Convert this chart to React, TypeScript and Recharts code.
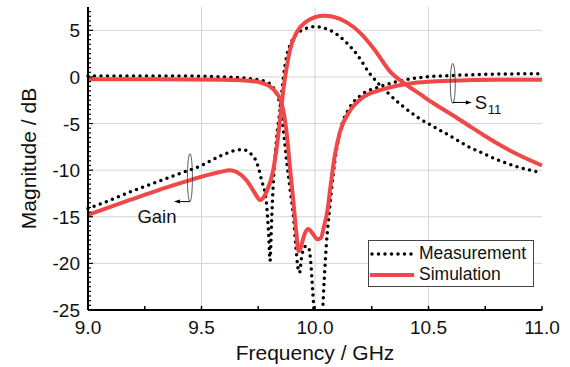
import { LineChart, Line, XAxis, YAxis, CartesianGrid, Legend, ReferenceDot } from "recharts";

// [frequency GHz, magnitude dB]
const S11_MEASURED: [number, number][] = [
  [9.0, 0.1], [9.2, 0.1], [9.4, 0.1], [9.6, 0.0], [9.7, -0.15], [9.76, -0.35], [9.8, -0.7],
  [9.83, -1.8], [9.846, -3.0], [9.86, -5.5], [9.875, -9], [9.89, -12], [9.905, -15], [9.915, -18],
  [9.925, -20.5], [9.932, -21], [9.94, -19.5], [9.955, -18.2], [9.97, -18.2], [9.98, -19.5],
  [9.99, -23], [10.0, -26.5], [10.015, -28], [10.03, -26.5], [10.04, -22], [10.05, -18],
  [10.065, -14], [10.08, -10.5], [10.095, -7.8], [10.12, -5], [10.15, -3.4], [10.2, -2.0],
  [10.28, -1.1], [10.36, -0.5], [10.45, -0.1], [10.6, 0.15], [10.8, 0.3], [11.0, 0.35],
];

const S11_SIMULATED: [number, number][] = [
  [9.0, -0.25], [9.3, -0.25], [9.6, -0.3], [9.7, -0.4], [9.76, -0.6], [9.8, -1.0], [9.83, -1.7],
  [9.85, -2.6], [9.862, -3.8], [9.875, -6], [9.89, -9.8], [9.905, -13.4], [9.918, -16.8],
  [9.928, -18.7], [9.937, -18.3], [9.955, -16.8], [9.97, -16.3], [9.99, -16.8], [10.01, -17.4],
  [10.025, -17.3], [10.04, -16.0], [10.055, -14.3], [10.068, -11.8], [10.088, -8.3], [10.11, -5.9],
  [10.155, -3.6], [10.21, -2.2], [10.29, -1.4], [10.36, -0.95], [10.45, -0.6], [10.6, -0.4],
  [10.8, -0.3], [11.0, -0.3],
];

const GAIN_MEASURED: [number, number][] = [
  [9.0, -14.1], [9.1, -13.2], [9.2, -12.2], [9.3, -11.3], [9.4, -10.4], [9.5, -9.5], [9.58, -8.5],
  [9.64, -7.95], [9.68, -7.8], [9.715, -8.2], [9.745, -9.3], [9.765, -11.1], [9.785, -13.3],
  [9.795, -16.5], [9.802, -19.7], [9.808, -16], [9.815, -12], [9.83, -6.8], [9.846, -3.5],
  [9.861, 0.0], [9.875, 2.2], [9.897, 3.8], [9.935, 4.9], [10.0, 5.4], [10.066, 5.0],
  [10.125, 4.0], [10.185, 2.4], [10.24, 0.4], [10.316, -1.6], [10.38, -3.0], [10.45, -4.3],
  [10.52, -5.3], [10.6, -6.4], [10.67, -7.4], [10.75, -8.3], [10.815, -9.0], [10.9, -9.7],
  [11.0, -10.3],
];

const GAIN_SIMULATED: [number, number][] = [
  [9.0, -14.8], [9.185, -13.2], [9.405, -11.4], [9.581, -10.2], [9.626, -10.0], [9.655, -10.2],
  [9.699, -11.1], [9.736, -12.5], [9.758, -13.2], [9.787, -12.3], [9.816, -10.0], [9.83, -7.8],
  [9.845, -4.8], [9.86, -1.5], [9.875, 1.0], [9.89, 2.9], [9.92, 4.8], [9.96, 5.9], [10.0, 6.4],
  [10.04, 6.55], [10.08, 6.45], [10.14, 5.85], [10.2, 4.7], [10.26, 3.0], [10.33, 0.6],
  [10.4, -0.8], [10.46, -1.8], [10.52, -2.8], [10.6, -4.0], [10.67, -5.1], [10.74, -6.2],
  [10.815, -7.3], [10.9, -8.4], [11.0, -9.5],
];

const X_TICKS = [9, 9.25, 9.5, 9.75, 10, 10.25, 10.5, 10.75, 11];
const X_MAJOR = [9, 9.5, 10, 10.5, 11];
const X_GRID = [9.5, 10, 10.5];
const Y_MAJOR = [5, 0, -5, -10, -15, -20, -25];
const Y_GRID = [5, 0, -5, -10, -15, -20];
const Y_TICKS = Array.from({ length: 65 }, (_, i) => 7 - i * 0.5).filter(v => v >= -25);
const LEGEND_ITEMS = ["Measurement", "Simulation"];

const RED = "#f04848";
const FONT = "'Liberation Sans', Arial, sans-serif";

const pts = (arr: [number, number][]) => arr.map(([f, db]) => ({ f, db }));

function XTick({ x, y, payload }: any) {
  const major = X_MAJOR.includes(payload.value);
  return (
    <g>
      <line x1={x} x2={x} y1={y} y2={y - 4} stroke="#000" strokeWidth={1.5} />
      {major && (
        <text x={x} y={y + 24} textAnchor="middle" fontSize={19} fontFamily={FONT} fill="#111">
          {payload.value.toFixed(1)}
        </text>
      )}
    </g>
  );
}

function YTick({ x, y, payload }: any) {
  const major = Y_MAJOR.includes(payload.value);
  return (
    <g>
      <line x1={x} x2={x + (major ? 5 : 3)} y1={y} y2={y} stroke="#000" strokeWidth={1.2} />
      {major && (
        <text x={x - 8} y={y + 7} textAnchor="end" fontSize={19} fontFamily={FONT} fill="#111">
          {payload.value}
        </text>
      )}
    </g>
  );
}

function GainMark({ cx, cy }: any) {
  return (
    <g>
      <ellipse cx={cx} cy={cy} rx={2.5} ry={24} fill="none" stroke="#333" strokeWidth={0.8} />
      <line x1={cx} y1={cy + 24} x2={cx - 11} y2={cy + 24} stroke="#000" strokeWidth={1} />
      <polygon points={`${cx - 16},${cy + 24} ${cx - 10},${cy + 22} ${cx - 10},${cy + 26}`} fill="#000" />
      <text x={cx - 33} y={cy + 45} textAnchor="middle" fontSize={18.5} fontFamily={FONT} fill="#111">Gain</text>
    </g>
  );
}

function S11Mark({ cx, cy }: any) {
  return (
    <g>
      <ellipse cx={cx} cy={cy} rx={2.5} ry={20} fill="none" stroke="#333" strokeWidth={0.8} />
      <line x1={cx} y1={cy + 19} x2={cx + 14} y2={cy + 19} stroke="#000" strokeWidth={1} />
      <polygon points={`${cx + 19},${cy + 19} ${cx + 13},${cy + 17} ${cx + 13},${cy + 21}`} fill="#000" />
      <text x={cx + 22} y={cy + 26} fontSize={18.5} fontFamily={FONT} fill="#111">S</text>
      <text x={cx + 35} y={cy + 31} fontSize={13} fontFamily={FONT} fill="#111">11</text>
    </g>
  );
}

function LegendBox() {
  return (
    <div style={{ width: 166, height: 47, border: "1px solid #444", background: "#fff", fontFamily: FONT, fontSize: 17.5, color: "#111", boxSizing: "border-box", padding: "2px 0 0 0" }}>
      {LEGEND_ITEMS.map((name, i) => (
        <div key={name} style={{ display: "flex", alignItems: "center", height: 21 }}>
          <svg width={48} height={10} style={{ marginRight: 2 }}>
            {i === 0
              ? <line x1={3} x2={44} y1={5} y2={5} stroke="#000" strokeWidth={3.5} strokeDasharray="0 6.5" strokeLinecap="round" />
              : <line x1={1} x2={45} y1={5} y2={5} stroke={RED} strokeWidth={4} />}
          </svg>
          <span>{name}</span>
        </div>
      ))}
    </div>
  );
}

export default function App() {
  return (
    <div style={{ position: "absolute", left: 0, top: 0, background: "#fff" }}>
      <LineChart width={570} height={367} margin={{ top: 7, right: 28, left: 0, bottom: 0 }}>
        <CartesianGrid stroke="#d4d4d4" strokeWidth={1} horizontalValues={Y_GRID} verticalValues={X_GRID} />
        <XAxis
          dataKey="f" type="number" domain={[9, 11]} ticks={X_TICKS} interval={0} height={57}
          tickSize={0} tickMargin={0} tick={<XTick />} axisLine={{ stroke: "#000", strokeWidth: 2 }}
          label={(p: any) => (
            <text x={p.viewBox.x + p.viewBox.width / 2} y={p.viewBox.y + 50} textAnchor="middle" fontSize={21} fontFamily={FONT} fill="#111">
              Frequency / GHz
            </text>
          )}
        />
        <XAxis xAxisId="top" orientation="top" type="number" domain={[9, 11]} height={0} tick={false} tickLine={false} axisLine={{ stroke: "#000", strokeWidth: 2 }} />
        <YAxis
          type="number" domain={[-25, 7.5]} ticks={Y_TICKS} interval={0} width={88} allowDataOverflow
          tickSize={0} tickMargin={0} tick={<YTick />} axisLine={{ stroke: "#000", strokeWidth: 2 }}
          label={(p: any) => {
            const cx = p.viewBox.x + 28;
            const cy = p.viewBox.y + p.viewBox.height / 2;
            return (
              <text x={cx} y={cy} transform={`rotate(-90 ${cx} ${cy})`} textAnchor="middle" dominantBaseline="central" fontSize={21} fontFamily={FONT} fill="#111">
                Magnitude / dB
              </text>
            );
          }}
        />
        <YAxis yAxisId="right" orientation="right" width={0} tick={false} tickLine={false} axisLine={{ stroke: "#000", strokeWidth: 2 }} />
        <Line data={pts(S11_MEASURED)} dataKey="db" type="monotone" stroke="#000" strokeWidth={3.5} strokeDasharray="0 6.5" strokeLinecap="round" dot={false} isAnimationActive={false} />
        <Line data={pts(GAIN_MEASURED)} dataKey="db" type="monotone" stroke="#000" strokeWidth={3.5} strokeDasharray="0 6.5" strokeLinecap="round" dot={false} isAnimationActive={false} />
        <Line data={pts(S11_SIMULATED)} dataKey="db" type="monotone" stroke={RED} strokeWidth={4} dot={false} isAnimationActive={false} />
        <Line data={pts(GAIN_SIMULATED)} dataKey="db" type="monotone" stroke={RED} strokeWidth={4} dot={false} isAnimationActive={false} />
        <ReferenceDot x={9.449} y={-10.8} r={0} shape={(p: any) => <GainMark {...p} />} />
        <ReferenceDot x={10.607} y={-0.7} r={0} shape={(p: any) => <S11Mark {...p} />} />
        <Legend layout="vertical" align="center" verticalAlign="middle" wrapperStyle={{ left: 368, top: 240, width: 166 }} content={() => <LegendBox />} />
      </LineChart>
    </div>
  );
}
